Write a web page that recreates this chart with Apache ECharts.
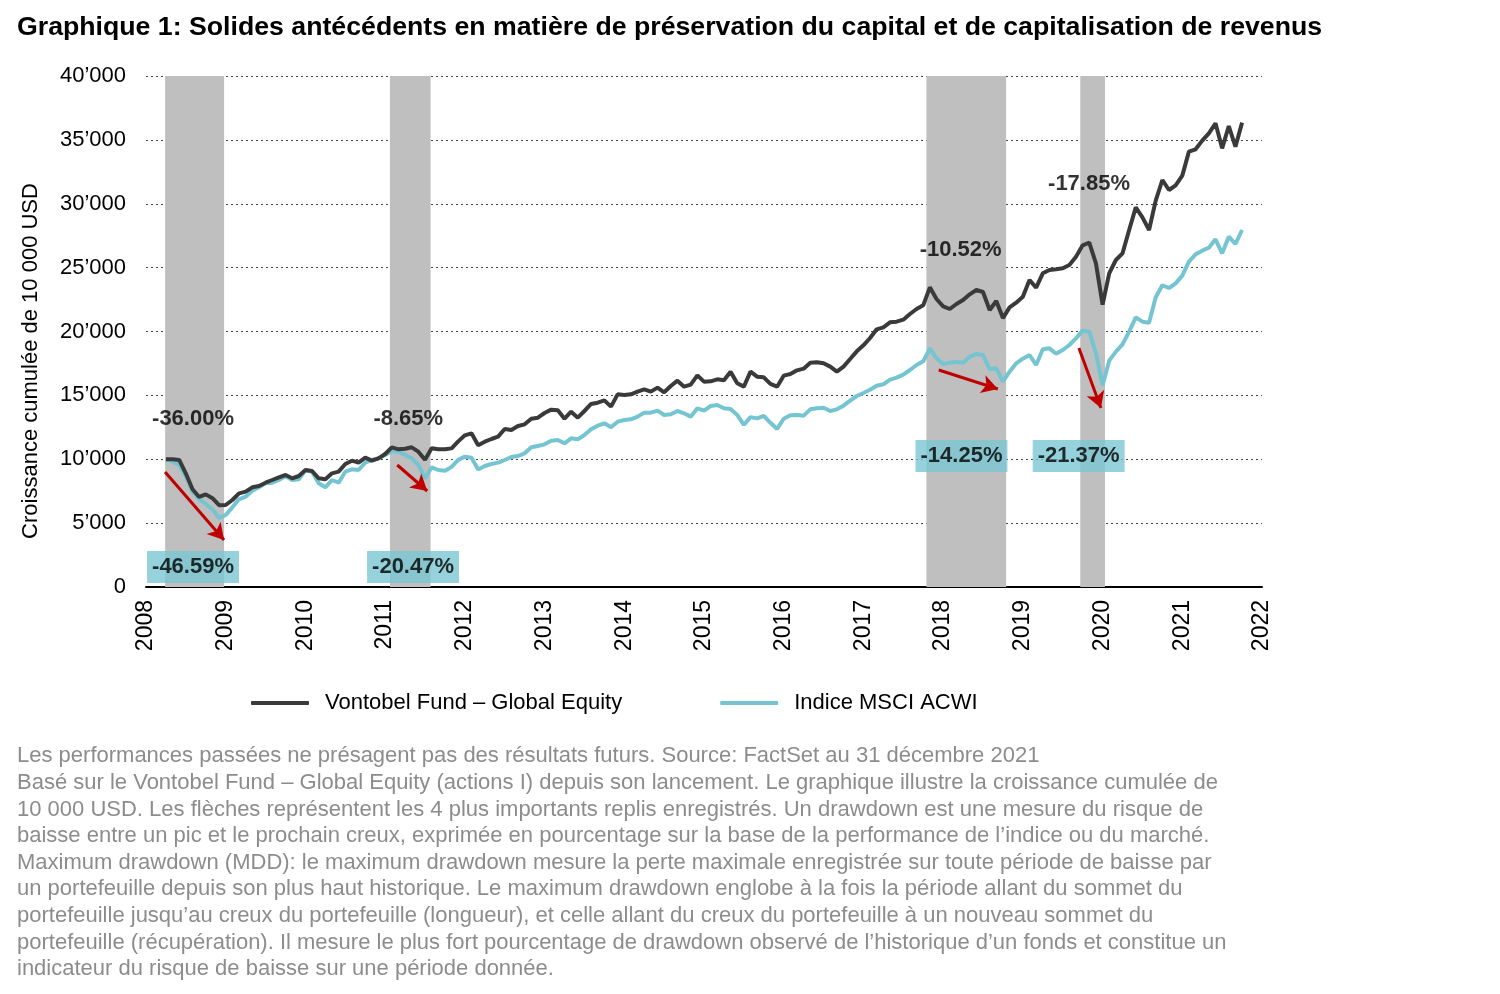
<!DOCTYPE html>
<html><head><meta charset="utf-8">
<script src="https://cdn.jsdelivr.net/npm/echarts@6/dist/echarts.min.js"></script>
<style>html,body{margin:0;padding:0;background:#fff}#c{width:1500px;height:994px}</style>
</head><body><div id="c"></div>
<script>
// Monthly values, first point = START (fractional year on the x axis)
const START = 2008.25;
const fund = [10000,10000,9950,8880,7650,7050,7250,6950,6400,6420,6810,7332,7463,7802,7906,8167,8376,8585,8767,8507,8689,9159,9080,8507,8428,8898,9028,9628,9889,9733,10124,9889,10074,10411,10933,10777,10828,10933,10594,9960,10855,10777,10777,10850,11400,11873,12029,11100,11376,11585,11768,12368,12290,12603,12733,13177,13255,13621,13882,13830,13177,13725,13255,13777,14325,14429,14612,14117,15082,15030,15082,15291,15473,15291,15604,15239,15734,16152,15682,15839,16569,16074,16100,16256,16178,16856,15943,15682,16856,16465,16413,15900,15682,16543,16674,16961,17091,17561,17587,17509,17248,16856,17248,17848,18448,18918,19492,20170,20327,20718,20770,20927,21370,21762,22049,23458,22545,21971,21762,22153,22466,22910,23249,23093,21684,22388,21050,21892,22258,22727,24032,23432,24554,24815,24867,24945,25206,25858,26745,26954,25336,22100,24554,25598,26119,27946,29720,28938,27946,30242,31860,31077,31443,32199,34078,34261,34939,35513,36296,34339,36087,34469,36348];
const msci = [10000,9811,9550,8650,7460,6900,6500,6080,5400,5636,6236,6863,7071,7541,7802,8115,8167,8376,8689,8376,8428,9133,9028,8115,7802,8376,8167,9028,9211,9159,9733,9942,10074,10333,10646,10594,10333,10074,9550,8500,9367,9159,9107,9400,9950,10202,10124,9200,9472,9628,9733,9942,10176,10255,10463,10933,11037,11168,11455,11507,11246,11638,11559,11899,12342,12629,12812,12499,12942,13073,13125,13334,13647,13647,13803,13464,13516,13777,13595,13334,13986,13803,14169,14247,13986,13934,13464,12700,13300,13200,13400,12850,12368,13177,13438,13464,13412,13908,13986,14038,13777,13908,14195,14586,14951,15186,15447,15760,15865,16230,16387,16621,16987,17378,17666,18683,17900,17456,17561,17613,17561,18030,18239,18161,17039,17117,16074,16856,17509,17874,18161,17378,18605,18683,18260,18550,18944,19466,20066,19987,18291,15800,17717,18422,18996,19987,21109,20770,20692,22675,23615,23406,23771,24371,25467,26041,26328,26563,27216,26119,27424,26850,27946];
const seriesNames = ['Vontobel Fund – Global Equity', 'Indice MSCI ACWI'];
// drawdown periods [from, to] in years
const drawdownPeriods = [[2008.24, 2008.98], [2011.06, 2011.57], [2017.79, 2018.79], [2019.72, 2020.03]];
// fund drawdown labels [x, y, text]
const fundLabels = [[2008.59, 13151, '-36.00%'], [2011.29, 13151, '-8.65%'], [2018.22, 26380, '-10.52%'], [2019.83, 31547, '-17.85%']];
// index drawdown labels [x, y, text]
const indexLabels = [[2008.59, 1566, '-46.59%'], [2011.35, 1566, '-20.47%'], [2018.23, 10255, '-14.25%'], [2019.70, 10255, '-21.37%']];
// arrows [[x1,y1],[x2,y2]]
const arrows = [[[2008.239, 9002], [2008.979, 3679]], [[2011.152, 9550], [2011.528, 7515]], [[2017.945, 16987], [2018.686, 15499]], [[2019.703, 18709], [2019.979, 14012]]];
const yTicks = {min: 0, max: 40000, step: 5000};
const xTicks = {min: 2008, max: 2022, step: 1};

const titleText = 'Graphique 1: Solides antécédents en matière de préservation du capital et de capitalisation de revenus';
const yName = 'Croissance cumulée de 10 000 USD';
const footer = [
 'Les performances passées ne présagent pas des résultats futurs. Source: FactSet au 31 décembre 2021',
 'Basé sur le Vontobel Fund – Global Equity (actions I) depuis son lancement. Le graphique illustre la croissance cumulée de',
 '10 000 USD. Les flèches représentent les 4 plus importants replis enregistrés. Un drawdown est une mesure du risque de',
 'baisse entre un pic et le prochain creux, exprimée en pourcentage sur la base de la performance de l’indice ou du marché.',
 'Maximum drawdown (MDD): le maximum drawdown mesure la perte maximale enregistrée sur toute période de baisse par',
 'un portefeuille depuis son plus haut historique. Le maximum drawdown englobe à la fois la période allant du sommet du',
 'portefeuille jusqu’au creux du portefeuille (longueur), et celle allant du creux du portefeuille à un nouveau sommet du',
 'portefeuille (récupération). Il mesure le plus fort pourcentage de drawdown observé de l’historique d’un fonds et constitue un',
 'indicateur du risque de baisse sur une période donnée.'
];

const toXY = arr => arr.map((v, i) => [START + i / 12, v]);
const FONT = 'Liberation Sans, Arial, sans-serif';
const chart = echarts.init(document.getElementById('c'));
chart.setOption({
  animation: false,
  backgroundColor: '#fff',
  title: {text: titleText, left: 12, top: 9,
    textStyle: {fontFamily: FONT, fontSize: 26.7, fontWeight: 'bold', color: '#000'}},
  grid: {left: 146, right: 238, top: 76, bottom: 407, containLabel: false},
  legend: {data: seriesNames, left: 246, top: 687, itemWidth: 58, itemHeight: 4, itemGap: 98, icon: 'roundRect',
    textStyle: {fontFamily: FONT, fontSize: 22, color: '#000', padding: [0, 0, 0, 11]}},
  xAxis: {type: 'value', min: xTicks.min, max: xTicks.max, interval: xTicks.step,
    axisLine: {show: true, lineStyle: {color: '#000', width: 2}}, axisTick: {show: false}, splitLine: {show: false},
    axisLabel: {rotate: 90, margin: 13, fontFamily: FONT, fontSize: 23, color: '#000', formatter: v => String(v)}},
  yAxis: {type: 'value', min: yTicks.min, max: yTicks.max, interval: yTicks.step,
    axisLine: {show: false}, axisTick: {show: false},
    splitLine: {show: true, lineStyle: {color: '#444', type: [2, 3], width: 1}},
    axisLabel: {margin: 20, fontFamily: FONT, fontSize: 22, color: '#000',
      formatter: v => String(v).replace(/\B(?=(\d{3})+(?!\d))/g, '’')}},
  graphic: [
    {type: 'text', left: 17, top: 743, style: {text: footer.join('\n'), fontFamily: FONT, fontSize: 22,
      lineHeight: 26.6, fill: '#8c8c8c'}},
    {type: 'text', x: 31, y: 361, rotation: Math.PI / 2, style: {text: yName, fontFamily: FONT, fontSize: 22,
      fill: '#000', align: 'center', verticalAlign: 'middle'}}
  ],
  series: [
    {type: 'line', name: 'periods', data: [], silent: true, z: 1,
      markArea: {silent: true, itemStyle: {color: '#bfbfbf', opacity: 1},
        data: drawdownPeriods.map(p => [{xAxis: p[0], yAxis: yTicks.min}, {xAxis: p[1], yAxis: yTicks.max}])}},
    {type: 'line', name: seriesNames[1], data: toXY(msci), showSymbol: false, symbol: 'none', z: 3,
      lineStyle: {color: '#74c5d1', width: 4}, itemStyle: {color: '#74c5d1'}},
    {type: 'line', name: seriesNames[0], data: toXY(fund), showSymbol: false, symbol: 'none', z: 4,
      lineStyle: {color: '#3a3a3a', width: 4}, itemStyle: {color: '#3a3a3a'}},
    {type: 'line', name: 'arrows', data: [], silent: true, z: 5,
      markLine: {silent: true, symbol: ['none', 'arrow'], symbolSize: [14, 16], label: {show: false},
        lineStyle: {color: '#c00000', width: 3, type: 'solid'},
        data: arrows.map(a => [{coord: a[0]}, {coord: a[1]}])}},
    {type: 'scatter', name: 'fundLabels', data: fundLabels.map(l => ({value: [l[0], l[1]], name: l[2]})),
      symbolSize: 0, silent: true, z: 6,
      label: {show: true, position: 'inside', formatter: p => p.name, fontFamily: FONT, fontSize: 22,
        fontWeight: 'bold', color: '#000'}},
    {type: 'scatter', name: 'indexLabels', data: indexLabels.map(l => ({value: [l[0], l[1]], name: l[2]})),
      symbolSize: 0, silent: true, z: 6,
      label: {show: true, position: 'inside', formatter: p => p.name, fontFamily: FONT, fontSize: 22,
        fontWeight: 'bold', color: '#000', backgroundColor: '#7cc7d2', padding: [6, 5, 4, 5]}}
  ]
});
</script></body></html>
